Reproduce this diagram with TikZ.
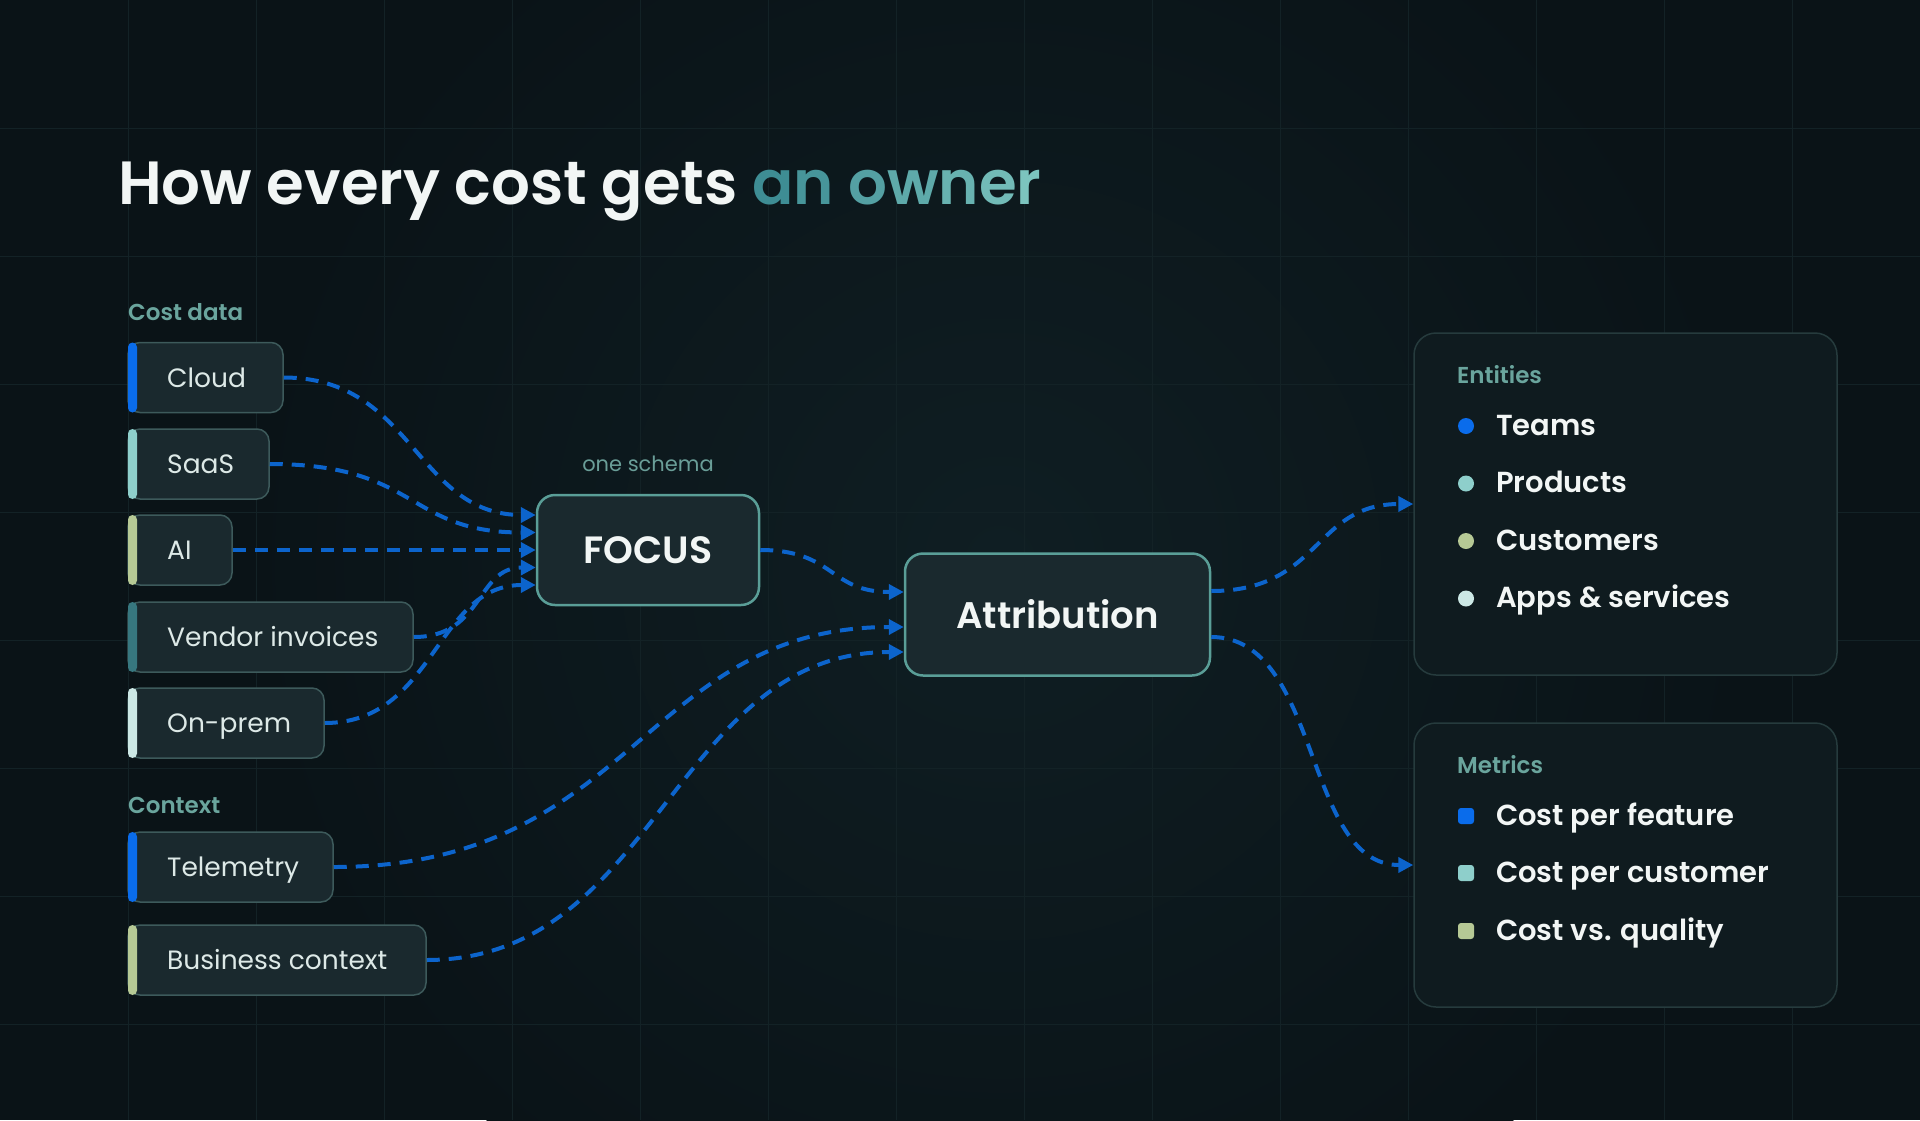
\documentclass[tikz,border=0pt]{standalone}
\usepackage{fontspec}
\setmainfont{Poppins}
\newfontfamily\semi{Poppins SemiBold}
\usetikzlibrary{arrows.meta}
\definecolor{bg}{HTML}{0A1317}
\definecolor{glow}{HTML}{0F1E23}
\definecolor{gridc}{HTML}{132226}
\definecolor{boxfill}{HTML}{1A292E}
\definecolor{boxline}{HTML}{3D5A5B}
\definecolor{tealline}{HTML}{5A9E97}
\definecolor{flow}{HTML}{0C64CC}
\definecolor{cblue}{HTML}{0A6CEB}
\definecolor{cteal}{HTML}{8ECFCB}
\definecolor{csage}{HTML}{B6C995}
\definecolor{cdteal}{HTML}{37777F}
\definecolor{cpale}{HTML}{CCE8E5}
\definecolor{lbl}{HTML}{6AA59D}
\definecolor{lbldim}{HTML}{6A9E98}
\definecolor{txt}{HTML}{DDE9E7}
\definecolor{white2}{HTML}{F2F6F5}
\definecolor{tA}{HTML}{3E8D94}
\definecolor{tB}{HTML}{7CC4BE}
\definecolor{panelline}{HTML}{263B3D}
\definecolor{panelfill}{HTML}{0F1B1F}
\tikzset{
  srcbox/.style={draw=boxline, line width=1.5pt, fill=boxfill, rounded corners=12pt,
    minimum height=70pt, inner sep=0pt},
  srctext/.style={anchor=base west, text=txt, inner sep=0pt, font=\fontsize{26.5}{26.5}\selectfont},
  grouplbl/.style={anchor=base west, text=lbl, inner sep=0pt, font=\semi\fontsize{23}{23}\selectfont},
  hubbox/.style={draw=tealline, line width=2.5pt, fill=boxfill, rounded corners=18pt, inner sep=0pt,
    text=white2},
  panel/.style={draw=panelline, line width=1.5pt, fill=panelfill, rounded corners=22pt, inner sep=0pt,
    minimum width=423pt},
  itemtext/.style={anchor=base west, text=white2, inner sep=0pt, font=\semi\fontsize{29}{29}\selectfont},
  flowline/.style={draw=flow, line width=4pt, dash pattern=on 13pt off 9pt,
    -{Triangle[length=15pt,width=15pt]}},
}
\begin{document}
\begin{tikzpicture}[x=1pt,y=-1pt]
\useasboundingbox (0,0) rectangle (1920,1120);
\fill[bg] (0,0) rectangle (1920,1120);
\shade[inner color=glow, outer color=bg] (1000,560) circle (760);
% grid
\foreach \gx in {128,256,...,1792} \draw[gridc, line width=1pt] (\gx,0) -- (\gx,1120);
\foreach \gy in {128,256,...,1024} \draw[gridc, line width=1pt] (0,\gy) -- (1920,\gy);

% title
\node[anchor=base west, inner sep=0pt, font=\semi\fontsize{61}{61}\selectfont, text=white2] (title) at (118,204)
  {How every cost gets \textcolor{tA}{a}\textcolor{tB!15!tA}{n} \textcolor{tB!35!tA}{o}\textcolor{tB!52!tA}{w}\textcolor{tB!68!tA}{n}\textcolor{tB!84!tA}{e}\textcolor{tB}{r}};

% group labels
\node[grouplbl] (lcost) at (128,320) {Cost data};
\node[grouplbl] (lctx) at (128,813) {Context};

% source boxes
\node[srcbox, minimum width=155pt] (cloud) at (205.5,377.5) {};
\node[srcbox, minimum width=141pt] (saas) at (198.5,464) {};
\node[srcbox, minimum width=104pt] (ai) at (180,550) {};
\node[srcbox, minimum width=285pt] (vendor) at (270.5,637) {};
\node[srcbox, minimum width=196pt] (onprem) at (226,723) {};
\node[srcbox, minimum width=205pt] (tele) at (230.5,867) {};
\node[srcbox, minimum width=298pt] (biz) at (277,960) {};
% accent bars
\fill[cblue, rounded corners=4.5pt] (128,342.5) rectangle (137,412.5);
\fill[cteal, rounded corners=4.5pt] (128,429) rectangle (137,499);
\fill[csage, rounded corners=4.5pt] (128,515) rectangle (137,585);
\fill[cdteal, rounded corners=4.5pt] (128,602) rectangle (137,672);
\fill[cpale, rounded corners=4.5pt] (128,688) rectangle (137,758);
\fill[cblue, rounded corners=4.5pt] (128,832) rectangle (137,902);
\fill[csage, rounded corners=4.5pt] (128,925) rectangle (137,995);
% source texts
\node[srctext] (cloudT) at (167,387) {Cloud};
\node[srctext] (saasT) at (167,473.5) {SaaS};
\node[srctext] (aiT) at (167,559.5) {AI};
\node[srctext] (vendorT) at (167,646.5) {Vendor invoices};
\node[srctext] (onpremT) at (167,732.5) {On-prem};
\node[srctext] (teleT) at (167,876.5) {Telemetry};
\node[srctext] (bizT) at (167,969.5) {Business context};

% hubs
\node[anchor=base, inner sep=0pt, text=lbldim, font=\fontsize{21}{21}\selectfont] (schema) at (648,471) {one schema};
\node[hubbox, minimum width=222pt, minimum height=110pt, font=\semi\fontsize{38}{38}\selectfont] (focus) at (648,550) {FOCUS};
\node[hubbox, minimum width=305pt, minimum height=122pt, font=\semi\fontsize{37}{37}\selectfont] (attr) at (1057.5,614.5) {Attribution};

% panels
\node[panel, minimum height=342pt] (ent) at (1625.5,504) {};
\node[panel, minimum height=284pt] (met) at (1625.5,865) {};
\node[grouplbl] (entL) at (1457,383) {Entities};
\node[grouplbl] (metL) at (1457,773) {Metrics};

\fill[cblue] (1466,426) circle (8);
\fill[cteal] (1466,483.5) circle (8);
\fill[csage] (1466,541) circle (8);
\fill[cpale] (1466,598.5) circle (8);
\node[itemtext] (i1) at (1496,435) {Teams};
\node[itemtext] (i2) at (1496,492.5) {Products};
\node[itemtext] (i3) at (1496,550) {Customers};
\node[itemtext] (i4) at (1496,607.5) {Apps \& services};

\fill[cblue, rounded corners=3pt] (1458,808) rectangle (1474,824);
\fill[cteal, rounded corners=3pt] (1458,865) rectangle (1474,881);
\fill[csage, rounded corners=3pt] (1458,923) rectangle (1474,939);
\node[itemtext] (m1) at (1496,825) {Cost per feature};
\node[itemtext] (m2) at (1496,882.5) {Cost per customer};
\node[itemtext] (m3) at (1496,940) {Cost vs. quality};

% connectors
\draw[flowline] (cloud.east) .. controls +(130,0) and +(-120,0) .. ([yshift=35pt]focus.west);
\draw[flowline] (saas.east) .. controls +(150,0) and +(-130,0) .. ([yshift=17.5pt]focus.west);
\draw[flowline] (ai.east) -- (focus.west);
\draw[flowline] (vendor.east) .. controls +(70,0) and +(-60,0) .. ([yshift=-17.5pt]focus.west);
\draw[flowline] (onprem.east) .. controls +(110,0) and +(-100,0) .. ([yshift=-35pt]focus.west);
\draw[flowline] (focus.east) .. controls +(75,0) and +(-75,0) .. ([yshift=22.5pt]attr.west);
\draw[flowline] (tele.east) .. controls +(300,0) and +(-260,0) .. ([yshift=-12.5pt]attr.west);
\draw[flowline] (biz.east) .. controls +(230,0) and +(-230,0) .. ([yshift=-37.5pt]attr.west);
\draw[flowline] ([yshift=23.5pt]attr.east) .. controls +(110,0) and +(-100,0) .. (ent.west);
\draw[flowline] ([yshift=-22.5pt]attr.east) .. controls +(110,0) and +(-110,0) .. (met.west);
\end{tikzpicture}
\end{document}
